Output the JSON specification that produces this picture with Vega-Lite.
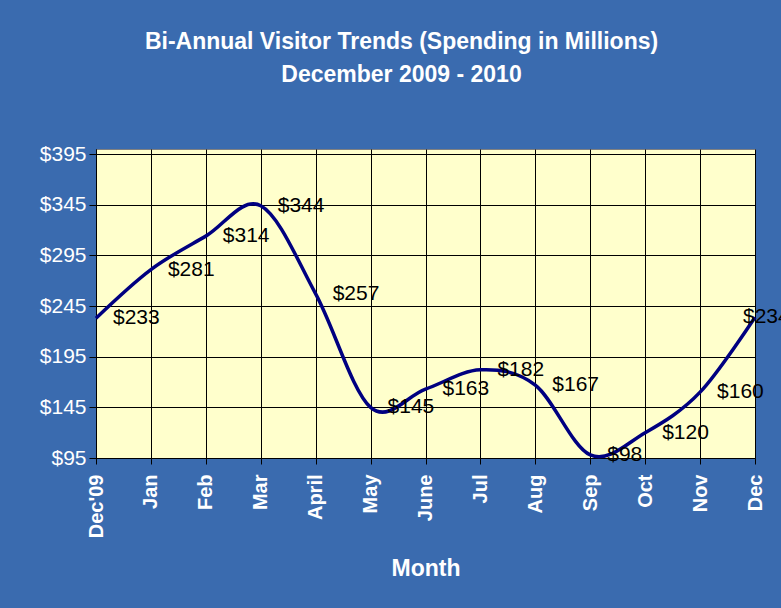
{
  "$schema": "https://vega.github.io/schema/vega-lite/v6.json",
  "autosize": {"type": "none"},
  "width": 659,
  "height": 309,
  "padding": {"left": 96, "top": 149, "right": 26, "bottom": 150},
  "background": "#3A6BAF",
  "title": {
    "text": ["Bi-Annual Visitor Trends (Spending in Millions)", "December 2009 - 2010"],
    "color": "white",
    "font": "Liberation Sans",
    "fontSize": 23,
    "fontWeight": "bold",
    "lineHeight": 33,
    "anchor": "middle",
    "dx": -24,
    "offset": 56
  },
  "config": {
    "view": {"fill": "#FFFFCC", "stroke": "#808080", "strokeWidth": 1},
    "font": "Liberation Sans"
  },
  "data": {
    "values": [
      {"month": "Dec'09", "spend": 233},
      {"month": "Jan", "spend": 281},
      {"month": "Feb", "spend": 314},
      {"month": "Mar", "spend": 344},
      {"month": "April", "spend": 257},
      {"month": "May", "spend": 145},
      {"month": "June", "spend": 163},
      {"month": "Jul", "spend": 182},
      {"month": "Aug", "spend": 167},
      {"month": "Sep", "spend": 98},
      {"month": "Oct", "spend": 120},
      {"month": "Nov", "spend": 160},
      {"month": "Dec", "spend": 234}
    ]
  },
  "encoding": {
    "x": {
      "field": "month",
      "type": "ordinal",
      "sort": null,
      "scale": {"type": "point", "padding": 0},
      "axis": {
        "title": "Month",
        "titleColor": "white",
        "titleFont": "Liberation Sans",
        "titleFontSize": 23,
        "titleFontWeight": "bold",
        "titlePadding": 20,
        "labelAngle": -90,
        "labelColor": "white",
        "labelFont": "Liberation Sans",
        "labelFontSize": 20,
        "labelFontWeight": "bold",
        "labelPadding": 10,
        "tickColor": "black",
        "tickSize": 6,
        "domainColor": "black",
        "domainWidth": 1,
        "grid": true,
        "gridColor": "black",
        "gridOpacity": 1,
        "gridWidth": 1
      }
    },
    "y": {
      "field": "spend",
      "type": "quantitative",
      "scale": {"domain": [95, 400], "nice": false, "zero": false},
      "axis": {
        "title": null,
        "values": [95, 145, 195, 245, 295, 345, 395],
        "labelExpr": "'$' + datum.value",
        "labelColor": "white",
        "labelFont": "Liberation Sans",
        "labelFontSize": 21,
        "labelPadding": 3,
        "tickColor": "black",
        "tickSize": 7,
        "domainColor": "black",
        "domainWidth": 1,
        "grid": true,
        "gridColor": "black",
        "gridOpacity": 1,
        "gridWidth": 1
      }
    }
  },
  "layer": [
    {
      "mark": {"type": "line", "interpolate": "cardinal", "color": "#000080", "strokeWidth": 3.5}
    },
    {
      "transform": [{"filter": "datum.month !== 'Dec'"}],
      "mark": {"type": "text", "align": "left", "baseline": "middle", "dx": 17, "dy": 0, "fontSize": 21, "color": "black", "font": "Liberation Sans"},
      "encoding": {"text": {"field": "spend", "type": "quantitative", "format": "$d"}}
    },
    {
      "transform": [{"filter": "datum.month === 'Dec'"}],
      "mark": {"type": "text", "align": "left", "baseline": "middle", "dx": -12, "dy": 0, "fontSize": 21, "color": "black", "font": "Liberation Sans"},
      "encoding": {"text": {"field": "spend", "type": "quantitative", "format": "$d"}}
    }
  ]
}
